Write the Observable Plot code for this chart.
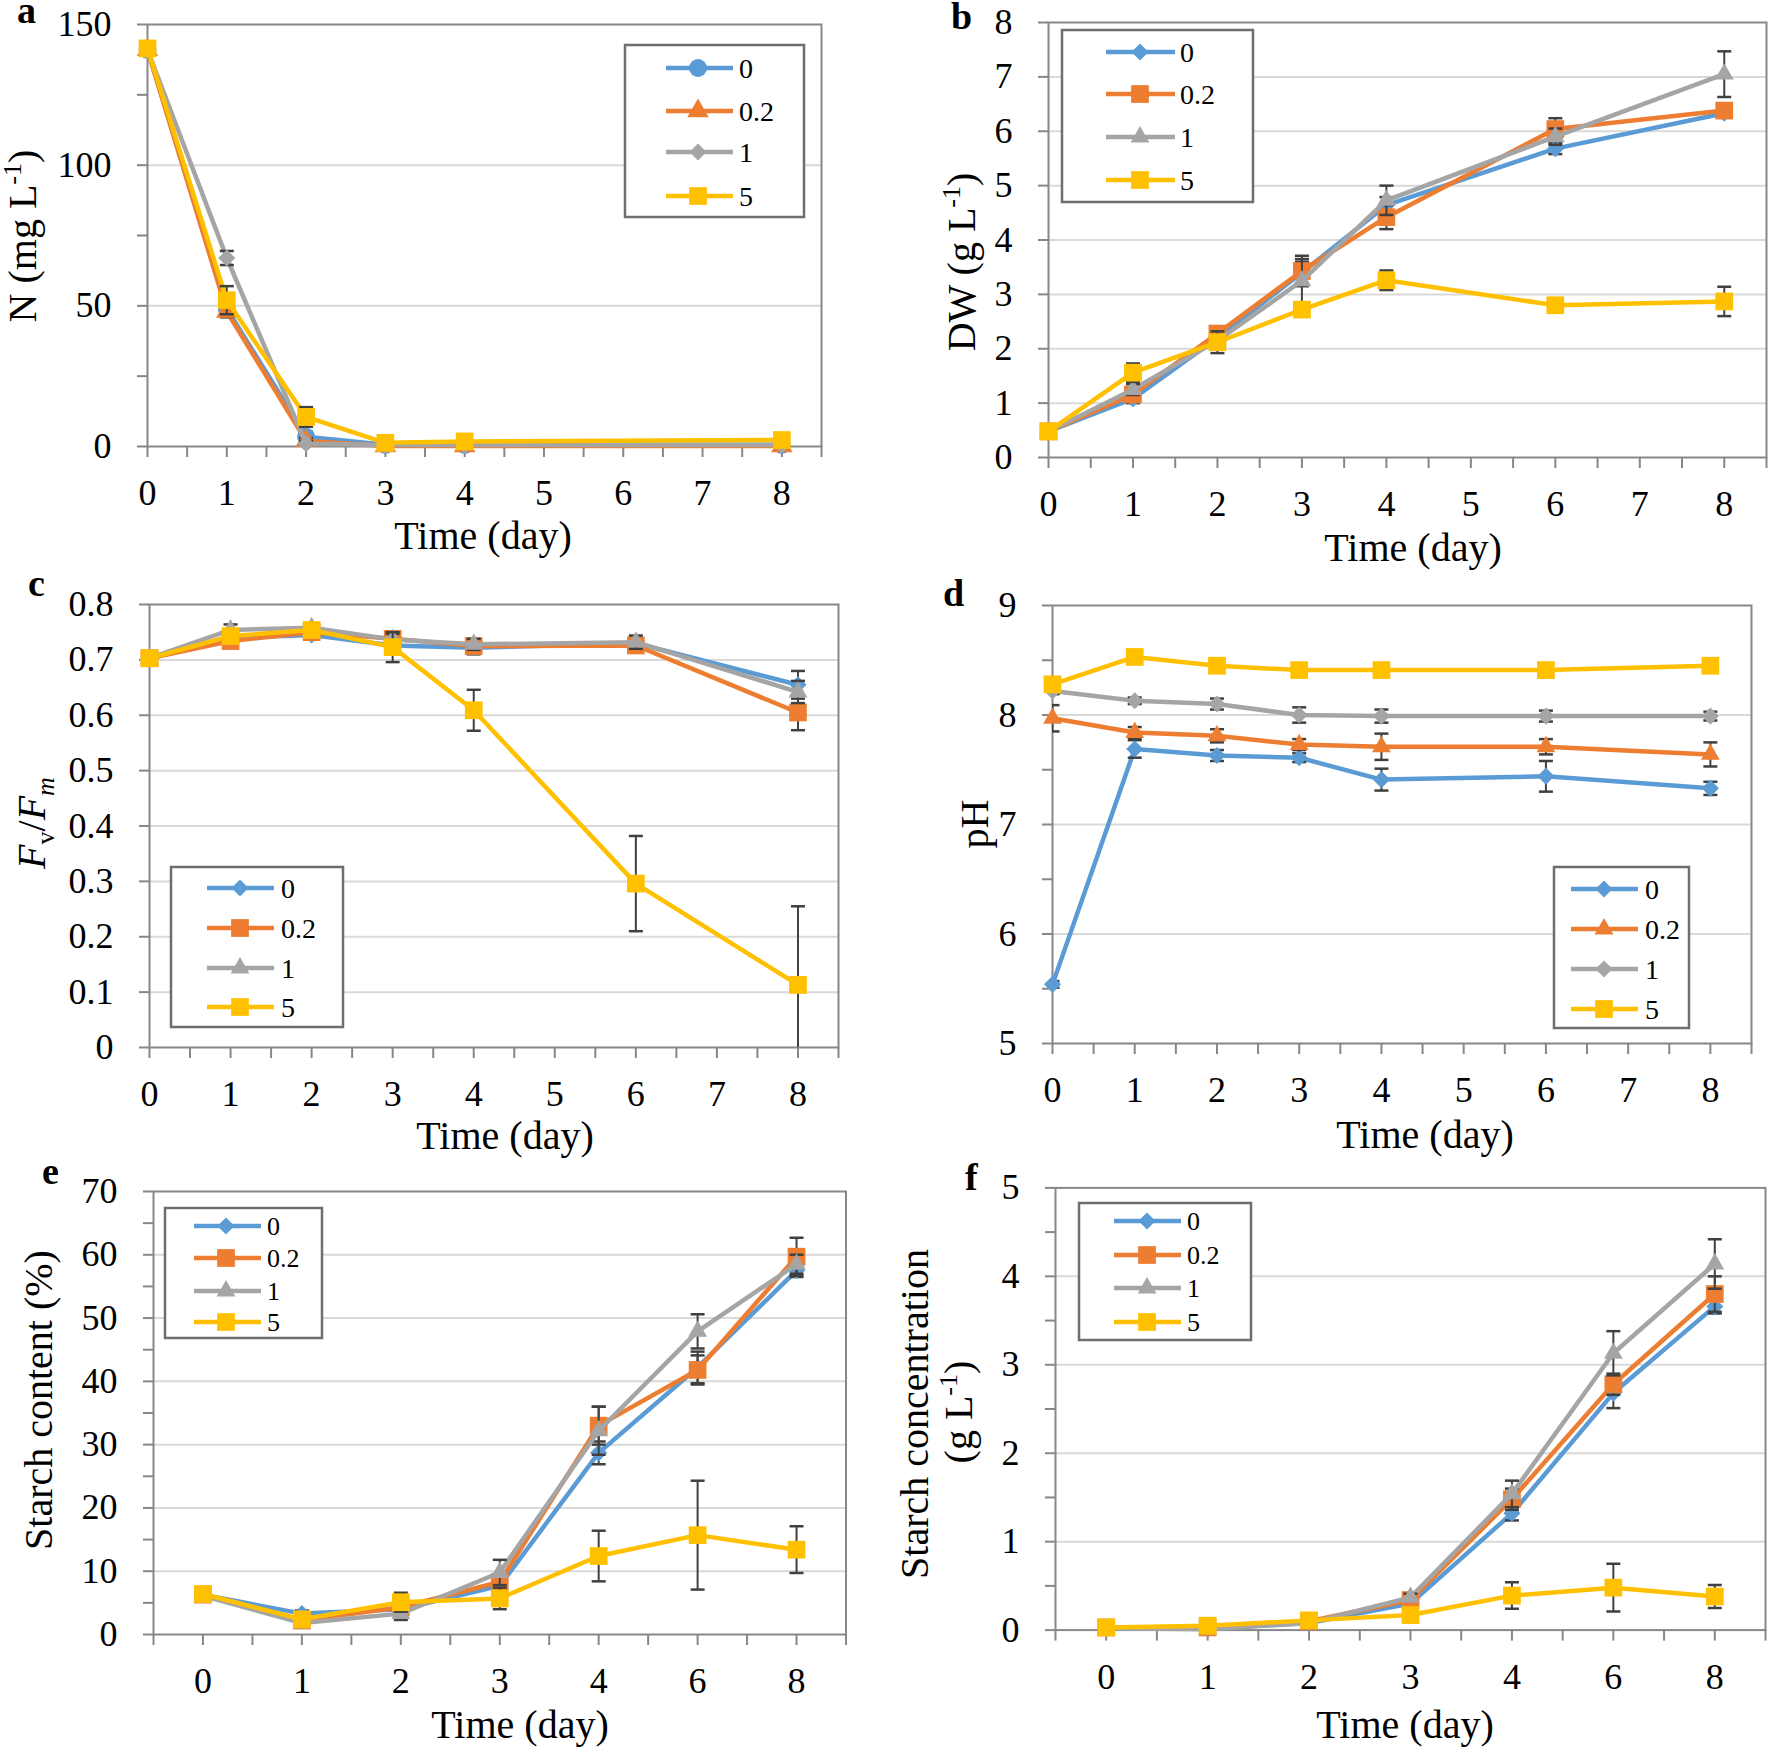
<!DOCTYPE html>
<html><head><meta charset="utf-8">
<script src="https://cdn.jsdelivr.net/npm/d3@7"></script>
<script src="https://cdn.jsdelivr.net/npm/@observablehq/plot@0.6"></script>
<style>
body{margin:0;background:#fff;}
#fig{position:relative;width:1772px;height:1749px;background:#fff;}
.panel{position:absolute;}
.panel svg{max-width:none !important;}
</style></head><body><div id="fig"></div>
<script>
// ---------- shared ----------
const seriesNames = ["0", "0.2", "1", "5"];
const seriesColors = ["#5B9BD5", "#ED7D31", "#A5A5A5", "#FFC000"];

// ---------- panel a : N (mg L-1) ----------
const daysA = [0, 1, 2, 3, 4, 8];
const nA_0  = [141, 49, 3.5, 0.6, 0.6, 0.6];
const nA_02 = [141, 48, 2, 0.2, 0.2, 0.2];
const nA_1  = [141, 67, 1, 0.5, 0.5, 0.5];
const nA_5  = [141.5, 52, 10.5, 1.3, 1.8, 2.3];
const nA_0e  = [1, 3, 1.5, 0.4, 0.4, 0.4];
const nA_02e = [1, 2, 1, 0.3, 0.3, 0.3];
const nA_1e  = [1, 2.5, 1, 0.3, 0.3, 0.3];
const nA_5e  = [1, 5, 3.5, 0.5, 0.8, 0.8];
const ticksXA = [0,0.5,1,1.5,2,2.5,3,3.5,4,4.5,5,5.5,6,6.5,7,7.5,8,8.5];
const ticksYA = [0, 25, 50, 75, 100, 125, 150];
const gridA = [50, 100];

// ---------- panel b : DW (g L-1) ----------
const daysB = [0, 1, 2, 3, 4, 6, 8];
const dwB_0  = [0.48, 1.08, 2.2, 3.4, 4.64, 5.68, 6.33];
const dwB_02 = [0.48, 1.16, 2.28, 3.43, 4.42, 6.04, 6.38];
const dwB_1  = [0.48, 1.25, 2.15, 3.25, 4.73, 5.9, 7.05];
const dwB_5  = [0.48, 1.56, 2.12, 2.72, 3.26, 2.8, 2.87];
const dwB_0e  = [0.03, 0.08, 0.1, 0.2, 0.15, 0.1, 0.05];
const dwB_02e = [0.03, 0.08, 0.1, 0.28, 0.22, 0.2, 0.06];
const dwB_1e  = [0.03, 0.1, 0.1, 0.4, 0.27, 0.15, 0.42];
const dwB_5e  = [0.03, 0.17, 0.2, 0.1, 0.18, 0.05, 0.27];
const ticksYB = [0, 1, 2, 3, 4, 5, 6, 7, 8];
const gridB = [1, 2, 3, 4, 5, 6, 7];

// ---------- panel c : Fv/Fm ----------
const daysC = [0, 1, 2, 3, 4, 6, 8];
const fvC_0  = [0.703, 0.74, 0.745, 0.726, 0.722, 0.73, 0.655];
const fvC_02 = [0.703, 0.734, 0.75, 0.738, 0.725, 0.726, 0.605];
const fvC_1  = [0.703, 0.754, 0.758, 0.737, 0.728, 0.732, 0.642];
const fvC_5  = [0.703, 0.743, 0.754, 0.723, 0.609, 0.296, 0.113];
const fvC_0e  = [0.005, 0.01, 0.008, 0.01, 0.012, 0.01, 0.025];
const fvC_02e = [0.005, 0.01, 0.008, 0.012, 0.012, 0.012, 0.032];
const fvC_1e  = [0.005, 0.01, 0.008, 0.01, 0.01, 0.012, 0.02];
const fvC_5e  = [0.005, 0.008, 0.008, 0.027, 0.037, 0.086, 0.142];
const ticksYC = [0, 0.1, 0.2, 0.3, 0.4, 0.5, 0.6, 0.7, 0.8];
const gridC = [0.1, 0.2, 0.3, 0.4, 0.5, 0.6, 0.7];

// ---------- panel d : pH ----------
const daysD = [0, 1, 2, 3, 4, 6, 8];
const phD_0  = [5.54, 7.69, 7.63, 7.61, 7.41, 7.44, 7.33];
const phD_02 = [7.97, 7.84, 7.81, 7.73, 7.71, 7.71, 7.64];
const phD_1  = [8.22, 8.13, 8.1, 8.0, 7.99, 7.99, 7.99];
const phD_5  = [8.28, 8.53, 8.45, 8.41, 8.41, 8.41, 8.45];
const phD_0e  = [0.03, 0.08, 0.05, 0.04, 0.1, 0.14, 0.06];
const phD_02e = [0.12, 0.05, 0.06, 0.05, 0.12, 0.07, 0.11];
const phD_1e  = [0.03, 0.03, 0.05, 0.07, 0.06, 0.05, 0.04];
const phD_5e  = [0.03, 0.03, 0.04, 0.04, 0.03, 0.03, 0.03];
const ticksYD = [5, 5.5, 6, 6.5, 7, 7.5, 8, 8.5, 9];
const gridD = [6, 7, 8];

// ---------- panel e : starch content (%) ----------
const catLabels = ["0", "1", "2", "3", "4", "6", "8"];
const catIndex = [0, 1, 2, 3, 4, 5, 6];
const scE_0  = [6.3, 3.3, 4.0, 7.7, 28.7, 42.2, 57.5];
const scE_02 = [6.3, 2.2, 4.3, 8.3, 33, 41.8, 59.7];
const scE_1  = [6.1, 1.8, 3.3, 9.8, 32.2, 47.9, 58.5];
const scE_5  = [6.4, 2.4, 5.1, 5.7, 12.4, 15.7, 13.4];
const scE_0e  = [0.3, 0.5, 0.6, 1, 1.8, 2.5, 1];
const scE_02e = [0.3, 0.5, 0.8, 1.2, 3, 2.3, 3];
const scE_1e  = [0.3, 0.4, 1, 2, 3.8, 2.7, 1.5];
const scE_5e  = [0.3, 0.5, 1.5, 1.7, 4, 8.6, 3.7];
const ticksXCat = [-0.5,0,0.5,1,1.5,2,2.5,3,3.5,4,4.5,5,5.5,6,6.5];
const ticksYE = [0,5,10,15,20,25,30,35,40,45,50,55,60,65,70];
const gridE = [10, 20, 30, 40, 50, 60];

// ---------- panel f : starch concentration (g L-1) ----------
const stF_0  = [0.02, 0.02, 0.08, 0.3, 1.32, 2.68, 3.66];
const stF_02 = [0.03, 0.03, 0.1, 0.34, 1.48, 2.78, 3.8];
const stF_1  = [0.02, 0.01, 0.08, 0.37, 1.54, 3.13, 4.14];
const stF_5  = [0.03, 0.05, 0.11, 0.17, 0.39, 0.48, 0.38];
const stF_0e  = [0.01, 0.01, 0.02, 0.03, 0.08, 0.17, 0.08];
const stF_02e = [0.01, 0.01, 0.02, 0.04, 0.12, 0.12, 0.2];
const stF_1e  = [0.01, 0.01, 0.02, 0.04, 0.15, 0.25, 0.28];
const stF_5e  = [0.01, 0.01, 0.03, 0.03, 0.15, 0.27, 0.13];
const ticksYF = [0, 0.5, 1, 1.5, 2, 2.5, 3, 3.5, 4, 4.5, 5];
const gridF = [1, 2, 3, 4];

// ---------- drawing ----------
const FONT = "'Liberation Serif', 'Times New Roman', serif";
const AXIS = "#878787", GRID = "#D9D9D9", ERR = "#404040", LEG = "#6E6E6E";
const SYM = {circle: d3.symbolCircle, triangle: d3.symbolTriangle, diamond2: d3.symbolDiamond2, square: d3.symbolSquare};
const SIZE = {circle: 9, triangle: 7, diamond2: 7.7, square: 10};
const capSym = {draw(ctx) { ctx.moveTo(-7, 0); ctx.lineTo(7, 0); }};
const intFmt = d => Number.isInteger(d) ? String(d) : "";

function makePanel(p) {
  const marks = [
    Plot.ruleY(p.grid, {stroke: GRID, strokeWidth: 2}),
    Plot.frame({stroke: AXIS, strokeWidth: 2}),
    Plot.axisX({ticks: p.xTicks, tickFormat: p.xFmt, tickSize: 11, tickPadding: 22,
      stroke: AXIS, strokeWidth: 2, fill: "#000", fontSize: 36, label: null}),
    Plot.axisY({ticks: p.yTicks, tickFormat: p.yFmt, tickSize: 10, tickPadding: 26,
      stroke: AXIS, strokeWidth: 2, fill: "#000", fontSize: 36, label: null})
  ];
  p.series.forEach((s, k) => {
    const rows = p.x.map((xv, i) => ({x: xv, y: s.v[i], lo: s.v[i] - s.e[i], hi: s.v[i] + s.e[i]}));
    const sym = p.symbols[k];
    const r = (p.sizes && p.sizes[sym]) || SIZE[sym];
    marks.push(Plot.line(rows, {x: "x", y: "y", stroke: seriesColors[k], strokeWidth: 4.5, strokeLinejoin: "round"}));
    marks.push(Plot.ruleX(rows, {x: "x", y1: "lo", y2: "hi", stroke: ERR, strokeWidth: 2, clip: true}));
    marks.push(Plot.dot(rows, {x: "x", y: "lo", symbol: capSym, fill: "none", stroke: ERR, strokeWidth: 2.5, clip: true}));
    marks.push(Plot.dot(rows, {x: "x", y: "hi", symbol: capSym, fill: "none", stroke: ERR, strokeWidth: 2.5, clip: true}));
    marks.push(Plot.dot(rows, {x: "x", y: "y", symbol: sym, r, fill: seriesColors[k], stroke: "none"}));
  });
  const svg = Plot.plot({
    width: p.w, height: p.h,
    marginLeft: p.m[0], marginRight: p.m[1], marginTop: p.m[2], marginBottom: p.m[3],
    x: {domain: p.xDomain}, y: {domain: p.yDomain},
    style: {fontFamily: FONT, fontSize: "36px", background: "transparent", color: "#000", overflow: "visible"},
    marks
  });
  const g = d3.select(svg);
  // panel letter
  g.append("text").attr("x", p.letter[1]).attr("y", p.letter[2]).attr("text-anchor", "start")
    .attr("font-family", FONT).attr("font-weight", "bold").attr("font-size", 38).attr("fill", "#000").text(p.letter[0]);
  // x title
  g.append("text").attr("x", p.xTitle[0]).attr("y", p.xTitle[1]).attr("text-anchor", "middle")
    .attr("font-family", FONT).attr("font-size", 40).attr("fill", "#000").text("Time (day)");
  // y titles (rotated, rich)
  p.yTitles.forEach(yt => {
    const t = g.append("text").attr("transform", `translate(${yt.x},${yt.y}) rotate(-90)`)
      .attr("text-anchor", "middle").attr("font-family", FONT).attr("font-size", 40).attr("fill", "#000");
    let shift = 0;
    yt.parts.forEach(pt => {
      const target = pt.sup ? -15 : pt.sub ? 9 : 0;
      const ts = t.append("tspan").text(pt.t).attr("dy", target - shift);
      shift = target;
      if (pt.sup || pt.sub) ts.attr("font-size", 26);
      if (pt.it) ts.attr("font-style", "italic");
    });
  });
  // legend
  const L = p.legend;
  g.append("rect").attr("x", L.box[0]).attr("y", L.box[2]).attr("width", L.box[1] - L.box[0])
    .attr("height", L.box[3] - L.box[2]).attr("fill", "#fff").attr("stroke", LEG).attr("stroke-width", 2.5);
  L.ys.forEach((yy, k) => {
    const sym = p.symbols[k];
    const r = (p.sizes && p.sizes[sym]) || SIZE[sym];
    g.append("line").attr("x1", L.line[0]).attr("x2", L.line[1]).attr("y1", yy).attr("y2", yy)
      .attr("stroke", seriesColors[k]).attr("stroke-width", 4.5);
    g.append("path").attr("transform", `translate(${L.mark},${yy})`)
      .attr("d", d3.symbol(SYM[sym], r * r * Math.PI)()).attr("fill", seriesColors[k]);
    g.append("text").attr("x", L.label).attr("y", yy).attr("dy", "0.34em").attr("text-anchor", "start")
      .attr("font-family", FONT).attr("font-size", L.fs).attr("fill", "#000").text(seriesNames[k]);
  });
  const div = document.createElement("div");
  div.className = "panel";
  div.style.left = p.left + "px"; div.style.top = p.top + "px";
  div.style.width = p.w + "px"; div.style.height = p.h + "px";
  div.appendChild(svg);
  document.getElementById("fig").appendChild(div);
}

const halfFmtCat = d => (Number.isInteger(d) && d >= 0) ? catLabels[d] : "";
const stdSyms = ["diamond2", "square", "triangle", "square"];

makePanel({
  left: 0, top: 0, w: 880, h: 575, m: [147, 59, 24, 129],
  x: daysA, xDomain: [0, 8.5], xTicks: ticksXA, xFmt: intFmt,
  yDomain: [0, 150], yTicks: ticksYA, yFmt: d => d % 50 === 0 ? String(d) : "", grid: gridA,
  symbols: ["circle", "triangle", "diamond2", "square"], sizes: {triangle: 8},
  series: [{v: nA_0, e: nA_0e}, {v: nA_02, e: nA_02e}, {v: nA_1, e: nA_1e}, {v: nA_5, e: nA_5e}],
  letter: ["a", 17, 23], xTitle: [483, 549],
  yTitles: [{x: 36, y: 236, parts: [{t: "N (mg L"}, {t: "-1", sup: true}, {t: ")"}]}],
  legend: {box: [625, 804, 45, 217], ys: [68, 111, 152, 196], line: [666, 733], mark: 698, label: 739, fs: 28}
});

makePanel({
  left: 880, top: 0, w: 892, h: 575, m: [168, 6, 22, 118],
  x: daysB, xDomain: [0, 8.5], xTicks: ticksXA, xFmt: intFmt,
  yDomain: [0, 8], yTicks: ticksYB, yFmt: d => String(d), grid: gridB,
  symbols: stdSyms,
  series: [{v: dwB_0, e: dwB_0e}, {v: dwB_02, e: dwB_02e}, {v: dwB_1, e: dwB_1e}, {v: dwB_5, e: dwB_5e}],
  letter: ["b", 71, 29], xTitle: [533, 561],
  yTitles: [{x: 95, y: 262, parts: [{t: "DW (g L"}, {t: "-1", sup: true}, {t: ")"}]}],
  legend: {box: [182, 373, 30, 202], ys: [52, 94, 137, 180], line: [226, 295], mark: 260, label: 300, fs: 28}
});

makePanel({
  left: 0, top: 575, w: 880, h: 590, m: [149, 42, 29, 118],
  x: daysC, xDomain: [0, 8.5], xTicks: ticksXA, xFmt: intFmt,
  yDomain: [0, 0.8], yTicks: ticksYC, yFmt: d => d === 0 ? "0" : d.toFixed(1), grid: gridC,
  symbols: stdSyms,
  series: [{v: fvC_0, e: fvC_0e}, {v: fvC_02, e: fvC_02e}, {v: fvC_1, e: fvC_1e}, {v: fvC_5, e: fvC_5e}],
  letter: ["c", 28, 21], xTitle: [505, 574],
  yTitles: [{x: 45, y: 248, parts: [{t: "F", it: true}, {t: "v", sub: true}, {t: "/"}, {t: "F", it: true}, {t: "m", sub: true, it: true}]}],
  legend: {box: [171, 343, 292, 452], ys: [313, 353, 393, 432], line: [207, 274], mark: 240, label: 281, fs: 28}
});

makePanel({
  left: 880, top: 575, w: 892, h: 590, m: [172, 21, 30, 122],
  x: daysD, xDomain: [0, 8.5], xTicks: ticksXA, xFmt: intFmt,
  yDomain: [5, 9], yTicks: ticksYD, yFmt: intFmt, grid: gridD,
  symbols: ["diamond2", "triangle", "diamond2", "square"],
  series: [{v: phD_0, e: phD_0e}, {v: phD_02, e: phD_02e}, {v: phD_1, e: phD_1e}, {v: phD_5, e: phD_5e}],
  letter: ["d", 63, 31], xTitle: [545, 573],
  yTitles: [{x: 108, y: 249, parts: [{t: "pH"}]}],
  legend: {box: [674, 809, 292, 453], ys: [314, 354, 394, 434], line: [691, 758], mark: 724, label: 765, fs: 28}
});

makePanel({
  left: 0, top: 1165, w: 880, h: 584, m: [153, 34.5, 26, 115],
  x: catIndex, xDomain: [-0.5, 6.5], xTicks: ticksXCat, xFmt: halfFmtCat,
  yDomain: [0, 70], yTicks: ticksYE, yFmt: d => d % 10 === 0 ? String(d) : "", grid: gridE,
  symbols: stdSyms,
  series: [{v: scE_0, e: scE_0e}, {v: scE_02, e: scE_02e}, {v: scE_1, e: scE_1e}, {v: scE_5, e: scE_5e}],
  letter: ["e", 42, 19], xTitle: [520, 573],
  yTitles: [{x: 52, y: 235, parts: [{t: "Starch content (%)"}]}],
  legend: {box: [165, 322, 43, 173], ys: [61, 93, 126, 157], line: [194, 261], mark: 226, label: 267, fs: 26}
});

makePanel({
  left: 880, top: 1165, w: 892, h: 584, m: [175, 7, 22.4, 119.4],
  x: catIndex, xDomain: [-0.5, 6.5], xTicks: ticksXCat, xFmt: halfFmtCat,
  yDomain: [0, 5], yTicks: ticksYF, yFmt: intFmt, grid: gridF,
  symbols: stdSyms,
  series: [{v: stF_0, e: stF_0e}, {v: stF_02, e: stF_02e}, {v: stF_1, e: stF_1e}, {v: stF_5, e: stF_5e}],
  letter: ["f", 85, 25], xTitle: [525, 573],
  yTitles: [{x: 48, y: 249, parts: [{t: "Starch concentration"}]},
            {x: 92, y: 247, parts: [{t: "(g L"}, {t: "-1", sup: true}, {t: ")"}]}],
  legend: {box: [199, 371, 38, 175], ys: [56, 90, 123, 157], line: [234, 301], mark: 267, label: 307, fs: 26}
});
</script></body></html>
